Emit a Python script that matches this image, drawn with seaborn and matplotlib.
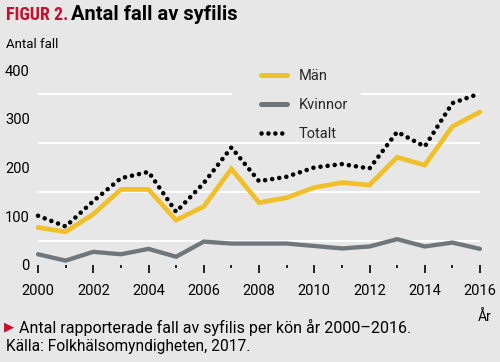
import matplotlib
matplotlib.use("Agg")
import matplotlib.pyplot as plt
import matplotlib.patches as mpatches
from matplotlib.lines import Line2D
from matplotlib.ticker import FixedLocator
from matplotlib import font_manager as fm
import seaborn as sns
import pandas as pd

years = list(range(2000, 2017))
man = [77, 68, 104, 155, 155, 92, 120, 197, 128, 138, 159, 169, 164, 221, 205, 284, 314]
kvinnor = [22, 9, 27, 22, 33, 17, 48, 44, 44, 44, 39, 34, 38, 53, 38, 46, 33]
totalt = [101, 79, 131, 178, 191, 109, 168, 241, 172, 181, 200, 207, 198, 273, 243, 332, 352]
series_names = ["Män", "Kvinnor", "Totalt"]
xtick_labels = [str(y) for y in range(2000, 2017, 2)]
yticks = [0, 100, 200, 300, 400]

BG = "#e7e7e7"
YEL = "#f0c02a"
GRY = "#6f777c"
RED = "#c8102e"

sns.set_theme(style="white")
plt.rcParams["font.family"] = ["Roboto", "DejaVu Sans"]

# choose a condensed font for "FIGUR 2." if one is available
cond_kwargs = None
for f in fm.fontManager.ttflist:
    if f.name in ("Roboto Condensed", "Liberation Sans Narrow", "Open Sans Condensed"):
        cond_kwargs = dict(family=[f.name, "Roboto"], fontsize=15.5)
        break
if cond_kwargs is None:
    for f in fm.fontManager.ttflist:
        if f.name == "DejaVu Sans" and "condensed" in str(f.stretch).lower():
            cond_kwargs = dict(family=["DejaVu Sans"], fontstretch="condensed", fontsize=14)
            break
if cond_kwargs is None:
    cond_kwargs = dict(family=["Roboto", "DejaVu Sans"], fontsize=12.5)

fig = plt.figure(figsize=(5.0, 3.62), dpi=100)
fig.patch.set_facecolor(BG)
W, H = 500, 362
ax_left, ax_right, ax_bottom = 38, 480, 265
ymax = 410
px_per_unit = 0.4875
ax_top = ax_bottom - ymax * px_per_unit
ax = fig.add_axes([ax_left / W, 1 - ax_bottom / H, (ax_right - ax_left) / W, (ax_bottom - ax_top) / H])
ax.set_facecolor(BG)

df = pd.DataFrame({"year": years, "Män": man, "Kvinnor": kvinnor, "Totalt": totalt})

sns.lineplot(data=df, x="year", y="Män", ax=ax, color=YEL, lw=3.4, zorder=3,
             solid_joinstyle="miter", clip_on=False)
sns.lineplot(data=df, x="year", y="Kvinnor", ax=ax, color=GRY, lw=3.1, zorder=3,
             solid_joinstyle="miter", clip_on=False)
sns.lineplot(data=df, x="year", y="Totalt", ax=ax, color="black", lw=3.3, zorder=4,
             dashes=False, clip_on=False)
tot_line = ax.get_lines()[-1]
tot_line.set_linestyle((0, (0.01, 1.55)))
tot_line.set_dash_capstyle("round")

ax.set_xlim(2000, 2016)
ax.set_ylim(0, ymax)
for s in ax.spines.values():
    s.set_visible(False)

# gridlines at every 50 except 0
ax.yaxis.set_major_locator(FixedLocator(yticks))
ax.yaxis.set_minor_locator(FixedLocator(list(range(50, 401, 50))))
ax.grid(False)
ax.grid(True, which="minor", axis="y", color="white", lw=1.4)
ax.set_axisbelow(True)
ax.tick_params(axis="y", which="both", length=0, pad=6, labelsize=10.5, labelcolor="black")

ax.xaxis.set_major_locator(FixedLocator(list(range(2000, 2017, 2))))
ax.xaxis.set_minor_locator(FixedLocator(list(range(2001, 2017, 2))))
ax.set_xticklabels(xtick_labels)
ax.tick_params(axis="x", which="major", length=5.5, width=1.4, color="#222222",
               pad=8, labelsize=10.5, labelcolor="black", bottom=True)
ax.tick_params(axis="x", which="minor", length=2.2, width=1.4, color="#222222", bottom=True)
ax.set_xlabel("")
ax.set_ylabel("")

# legend background box occluding gridlines
x0 = (232 - ax_left) / (ax_right - ax_left)
x1 = (361 - ax_left) / (ax_right - ax_left)
y0 = (ax_bottom - 131) / (ax_bottom - ax_top)
rect = mpatches.Rectangle((x0, y0), x1 - x0, 1.1 - y0, transform=ax.transAxes,
                          facecolor=BG, edgecolor="none", zorder=0.8, clip_on=False)
ax.add_patch(rect)

handles = [
    Line2D([], [], color=YEL, lw=3.6),
    Line2D([], [], color=GRY, lw=3.6),
    Line2D([], [], color="black", lw=3.3, linestyle=(0, (0.01, 1.5)), dash_capstyle="round"),
]
leg = ax.legend(handles, series_names, loc="upper left",
                bbox_to_anchor=(261 / W, 1 - 69.5 / H), bbox_transform=fig.transFigure,
                frameon=False, fontsize=10.5, handlelength=1.75, handletextpad=0.85,
                labelspacing=1.0, borderpad=0, borderaxespad=0)
leg.set_zorder(5)

# titles and captions
fig_t = fig.text(6 / W, 1 - 15 / H, "FIGUR 2.", color=RED, fontweight="bold",
                 va="center", ha="left", **cond_kwargs)
renderer = fig.canvas.get_renderer()
target_w = 62.0
for _ in range(3):
    w = fig_t.get_window_extent(renderer=renderer).width
    if w > 0:
        fig_t.set_fontsize(fig_t.get_fontsize() * target_w / w)

fig.text(71 / W, 1 - 15 / H, "Antal fall av syfilis", color="black", fontsize=14.5,
         fontweight="bold", va="center", ha="left")
fig.text(6 / W, 1 - 44 / H, "Antal fall", color="black", fontsize=9.5, va="center", ha="left")
fig.text(492 / W, 1 - 317 / H, "År", color="black", fontsize=10, va="center", ha="right")
fig.text(4 / W, 1 - 327 / H, "▶", color=RED, fontsize=9.5, va="center", ha="left",
         family=["DejaVu Sans"])
fig.text(19 / W, 1 - 327 / H, "Antal rapporterade fall av syfilis per kön år 2000–2016.",
         color="black", fontsize=11.5, va="center", ha="left")
fig.text(6 / W, 1 - 347 / H, "Källa: Folkhälsomyndigheten, 2017.", color="black",
         fontsize=11.2, va="center", ha="left")

fig.savefig("out.png", dpi=100, facecolor=BG)
